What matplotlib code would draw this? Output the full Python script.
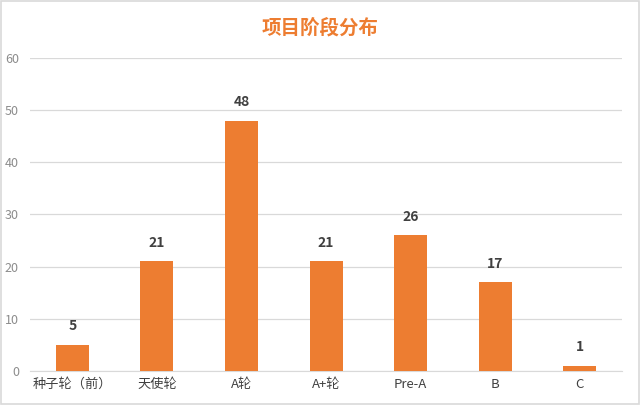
import matplotlib
matplotlib.use("Agg")
import matplotlib.pyplot as plt
from matplotlib.patches import Rectangle

plt.rcParams['font.family'] = ['Noto Sans CJK SC', 'DejaVu Sans']

categories = ["种子轮（前）", "天使轮", "A轮", "A+轮", "Pre-A", "B", "C"]
counts = [5, 21, 48, 21, 26, 17, 1]
title = "项目阶段分布"

orange = "#ED7D31"

fig = plt.figure(figsize=(6.4, 4.05), dpi=100)
ax = fig.add_axes([0.047, 0.084, 0.925, 0.773])

x = range(len(categories))
bars = ax.bar(x, counts, width=0.39, color=orange, zorder=3)
for b, v in zip(bars, counts):
    ax.text(b.get_x() + b.get_width() / 2, v + 2.2, str(v), ha="center", va="bottom",
            fontsize=10, fontweight="bold", color="#404040")

ax.set_xlim(-0.5, len(categories) - 0.5)
ax.set_ylim(0, 60)
ax.set_yticks(range(0, 61, 10))
ax.grid(axis="y", color="#d9d9d9", linewidth=0.9, zorder=0)
for s in ["top", "right", "left"]:
    ax.spines[s].set_visible(False)
ax.spines["bottom"].set_color("#d9d9d9")
ax.tick_params(axis="y", length=0, labelsize=9, labelcolor="#8c8c8c", pad=8)
ax.tick_params(axis="x", length=0, labelsize=9.5, labelcolor="#404040", pad=5)
ax.set_xticks(list(x))
ax.set_xticklabels(categories)

fig.text(0.5, 0.93, title, ha="center", va="center", fontsize=14,
         fontweight="bold", color=orange)

fig.patches.append(Rectangle((0.002, 0.003), 0.996, 0.994, transform=fig.transFigure,
                             fill=False, edgecolor="#d9d9d9", linewidth=1.2))

fig.savefig("out.png", dpi=100)
